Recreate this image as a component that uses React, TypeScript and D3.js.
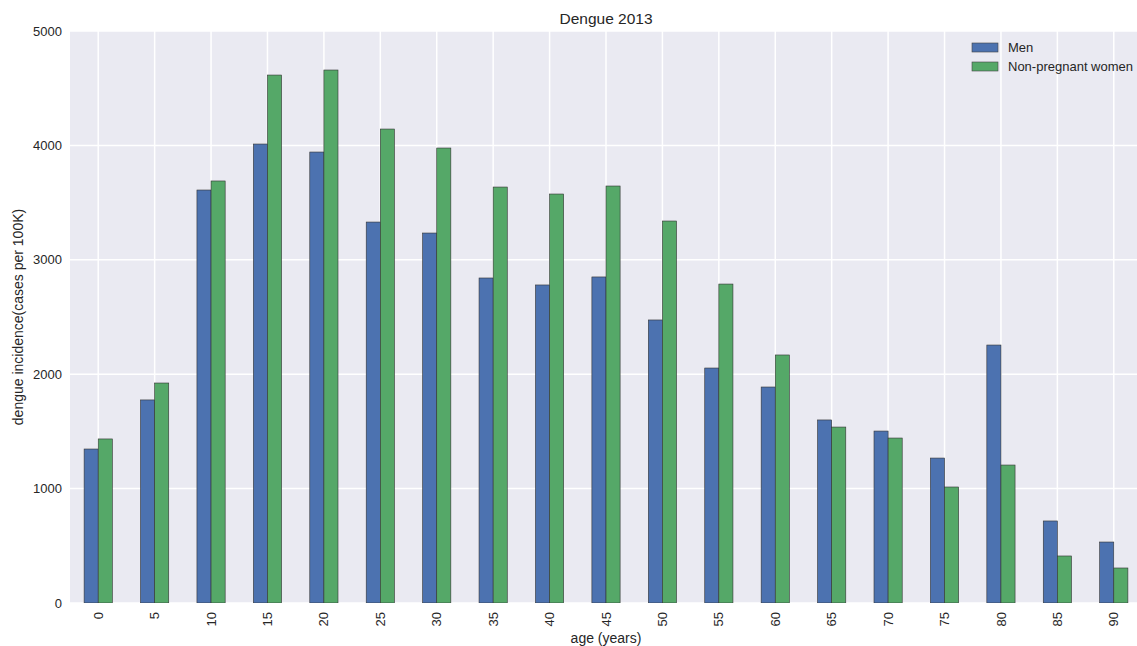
import React, { useEffect, useRef } from "react";
import * as d3 from "d3";

const ages = ["0", "5", "10", "15", "20", "25", "30", "35", "40", "45", "50", "55", "60", "65", "70", "75", "80", "85", "90"];
const men = [1346, 1775, 3610, 4012, 3942, 3330, 3234, 2841, 2780, 2850, 2474, 2054, 1888, 1600, 1503, 1267, 2255, 717, 533];
const women = [1434, 1923, 3689, 4615, 4659, 4143, 3977, 3636, 3575, 3645, 3339, 2788, 2168, 1538, 1442, 1014, 1206, 411, 306];
const seriesNames = ["Men", "Non-pregnant women"];
const colors = ["#4C72B0", "#55A868"];
const yTicks = [0, 1000, 2000, 3000, 4000, 5000];

const WIDTH = 1137;
const HEIGHT = 646;
const MARGIN = { top: 31, right: -5, bottom: 43, left: 70 };
const FONT = "'Liberation Sans', Arial, sans-serif";

const App = () => {
    const axesRef = useRef<SVGGElement>(null);
    const boundsWidth = WIDTH - MARGIN.left - MARGIN.right;
    const boundsHeight = HEIGHT - MARGIN.top - MARGIN.bottom;

    const xScale = d3.scaleBand().domain(ages).range([0, boundsWidth]).padding(0);
    const yScale = d3.scaleLinear().domain([0, 5000]).range([boundsHeight, 0]);
    const barW = xScale.bandwidth() * 0.25;

    useEffect(() => {
        const g = d3.select(axesRef.current);
        g.selectAll("*").remove();

        const xAxis = g.append("g")
            .attr("transform", `translate(0,${boundsHeight})`)
            .call(d3.axisBottom(xScale).tickSize(0).tickPadding(0));
        xAxis.select(".domain").remove();
        xAxis.selectAll("text")
            .attr("transform", "rotate(-90)")
            .attr("text-anchor", "end")
            .attr("x", -9)
            .attr("y", 0)
            .attr("dy", "0.35em")
            .attr("fill", "#262626")
            .style("font-size", "13px")
            .style("font-family", FONT);

        const yAxis = g.append("g")
            .call(d3.axisLeft(yScale).tickValues(yTicks).tickSize(0).tickPadding(8).tickFormat(d3.format("d")));
        yAxis.select(".domain").remove();
        yAxis.selectAll("text")
            .attr("fill", "#262626")
            .style("font-size", "13px")
            .style("font-family", FONT);
    }, [xScale, yScale, boundsHeight]);

    return (
        <div style={{ position: "absolute", left: 0, top: 0 }}>
            <svg width={WIDTH} height={HEIGHT} style={{ display: "block", background: "white" }}>
                <defs>
                    <clipPath id="plotclip">
                        <rect x={0} y={0} width={boundsWidth} height={boundsHeight} />
                    </clipPath>
                </defs>
                <g transform={`translate(${MARGIN.left},${MARGIN.top})`}>
                    <g clipPath="url(#plotclip)">
                        <rect width={boundsWidth} height={boundsHeight} fill="#EAEAF2" />
                        {ages.map((a) => (
                            <line key={"gx" + a} x1={xScale(a)! + xScale.bandwidth() / 2} x2={xScale(a)! + xScale.bandwidth() / 2}
                                y1={0} y2={boundsHeight} stroke="white" strokeWidth={1.5} />
                        ))}
                        {yTicks.map((t) => (
                            <line key={"gy" + t} x1={0} x2={boundsWidth} y1={yScale(t)} y2={yScale(t)} stroke="white" strokeWidth={1.5} />
                        ))}
                        {[men, women].map((vals, si) =>
                            vals.map((v, i) => {
                                const cx = xScale(ages[i])! + xScale.bandwidth() / 2;
                                return (
                                    <rect key={si + "-" + i}
                                        x={cx - barW + si * barW}
                                        y={yScale(v)}
                                        width={barW}
                                        height={boundsHeight - yScale(v)}
                                        fill={colors[si]}
                                        stroke="#333"
                                        strokeWidth={0.6} />
                                );
                            })
                        )}
                    </g>
                    <g transform={`translate(${902},${12})`}>
                        {seriesNames.map((n, i) => (
                            <g key={n} transform={`translate(0,${i * 19})`}>
                                <rect x={0} y={0} width={26} height={9} fill={colors[i]} stroke="#444" strokeWidth={0.6} />
                                <text x={36} y={4.5} dy="0.35em" fontSize={13} fill="#262626" fontFamily={FONT}>{n}</text>
                            </g>
                        ))}
                    </g>
                </g>
                <g ref={axesRef} transform={`translate(${MARGIN.left},${MARGIN.top})`} />
                <text x={606} y={24} textAnchor="middle" fontSize={15.5} fill="#262626" fontFamily={FONT}>Dengue 2013</text>
                <text x={606} y={643} textAnchor="middle" fontSize={14} fill="#262626" fontFamily={FONT}>age (years)</text>
                <text transform={`translate(23,317) rotate(-90)`} textAnchor="middle" fontSize={14} fill="#262626" fontFamily={FONT}>
                    dengue incidence(cases per 100K)
                </text>
            </svg>
        </div>
    );
};

export default App;
